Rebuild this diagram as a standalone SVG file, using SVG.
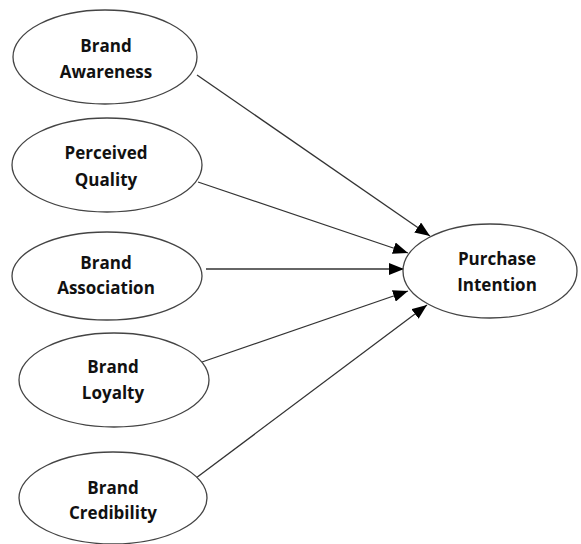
<svg xmlns="http://www.w3.org/2000/svg" width="581" height="544" viewBox="0 0 581 544">
<style>
.n{fill:#fff;stroke:#444;stroke-width:1.3}
.t{font-family:"Open Sans","Liberation Sans",sans-serif;font-weight:bold;font-size:17px;fill:#111;text-anchor:middle}
.c{stroke:#333;stroke-width:1.3;fill:none;marker-end:url(#ah)}
</style>
<defs>
<marker id="ah" markerUnits="userSpaceOnUse" markerWidth="16" markerHeight="12" refX="15" refY="6" orient="auto">
<path d="M0,0 L15,6 L0,12 Z" fill="#000"/>
</marker>
</defs>
<rect width="581" height="544" fill="#fff"/>
<g id="connectors">
<line class="c" x1="197" y1="75" x2="430" y2="236"/>
<line class="c" x1="198" y1="182" x2="408" y2="253"/>
<line class="c" x1="206" y1="269" x2="404" y2="269"/>
<line class="c" x1="202" y1="362" x2="408" y2="291"/>
<line class="c" x1="196" y1="478" x2="427" y2="305"/>
</g>
<g id="brand-awareness">
<ellipse class="n" cx="105" cy="57" rx="92" ry="47"/>
<text class="t" x="106" y="52">Brand</text>
<text class="t" x="106" y="78">Awareness</text>
</g>
<g id="perceived-quality">
<ellipse class="n" cx="107" cy="165" rx="95" ry="47"/>
<text class="t" x="106" y="159">Perceived</text>
<text class="t" x="106" y="186">Quality</text>
</g>
<g id="brand-association">
<ellipse class="n" cx="107" cy="276" rx="95" ry="44"/>
<text class="t" x="106" y="269">Brand</text>
<text class="t" x="106" y="294">Association</text>
</g>
<g id="brand-loyalty">
<ellipse class="n" cx="114" cy="380" rx="95" ry="47"/>
<text class="t" x="113" y="373">Brand</text>
<text class="t" x="113" y="399">Loyalty</text>
</g>
<g id="brand-credibility">
<ellipse class="n" cx="113" cy="498" rx="94" ry="46"/>
<text class="t" x="113" y="494">Brand</text>
<text class="t" x="113" y="519">Credibility</text>
</g>
<g id="purchase-intention">
<ellipse class="n" cx="490" cy="271" rx="87" ry="47"/>
<text class="t" x="497" y="265">Purchase</text>
<text class="t" x="497" y="291">Intention</text>
</g>
</svg>
